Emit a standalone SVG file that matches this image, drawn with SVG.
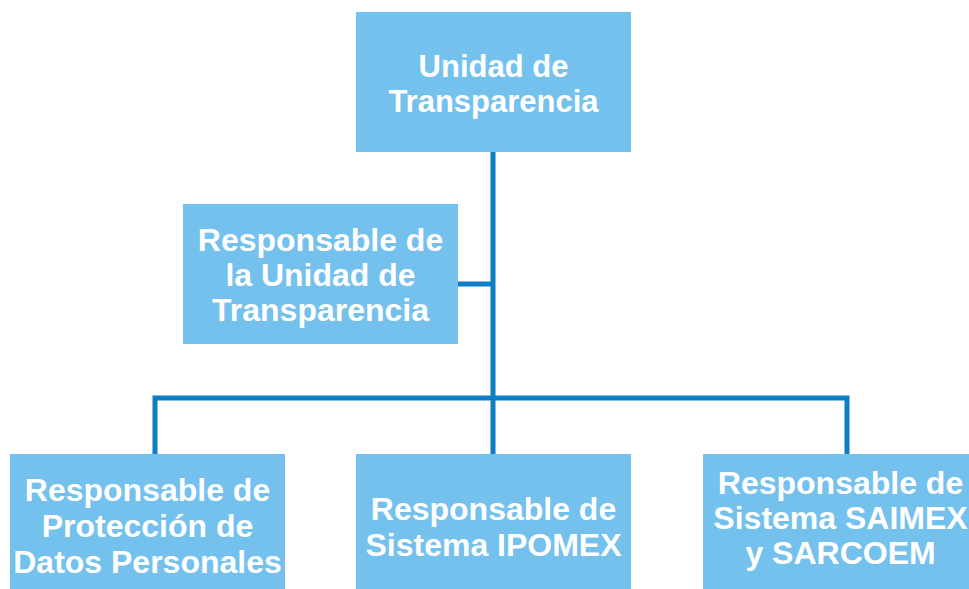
<svg xmlns="http://www.w3.org/2000/svg" width="969" height="589" viewBox="0 0 969 589">
<style>
.box{fill:#74C1EE;}
.t{font-family:"Liberation Sans",Arial,sans-serif;font-weight:bold;font-size:32px;fill:#FFFFFF;text-anchor:middle;}
.top{font-size:31px;}
.c{stroke:#0D7DC6;stroke-width:5;fill:none;}
</style>
<rect width="969" height="589" fill="#FFFFFF"/>
<g id="connectors">
<path class="c" d="M493 152 V398"/>
<path class="c" d="M458 284 H493"/>
<path class="c" d="M155 454 V398 H847 V454"/>
<path class="c" d="M493 398 V454"/>
</g>
<g id="n1">
<rect class="box" x="356" y="12" width="275" height="140"/>
<text class="t top" x="493.5" y="77">Unidad de</text>
<text class="t top" x="493.5" y="112">Transparencia</text>
</g>
<g id="n2">
<rect class="box" x="183" y="204" width="275" height="140"/>
<text class="t" x="320.5" y="251">Responsable de</text>
<text class="t" x="320.5" y="286">la Unidad de</text>
<text class="t" x="320.5" y="321">Transparencia</text>
</g>
<g id="n3">
<rect class="box" x="10" y="454" width="275" height="140"/>
<text class="t" x="147.5" y="501">Responsable de</text>
<text class="t" x="147.5" y="537">Protección de</text>
<text class="t" x="147.5" y="573">Datos Personales</text>
</g>
<g id="n4">
<rect class="box" x="356" y="454" width="275" height="140"/>
<text class="t" x="493.5" y="520">Responsable de</text>
<text class="t" x="493.5" y="556">Sistema IPOMEX</text>
</g>
<g id="n5">
<rect class="box" x="703" y="454" width="275" height="140"/>
<text class="t" x="840.5" y="494">Responsable de</text>
<text class="t" x="840.5" y="529">Sistema SAIMEX</text>
<text class="t" x="840.5" y="564">y SARCOEM</text>
</g>
</svg>
